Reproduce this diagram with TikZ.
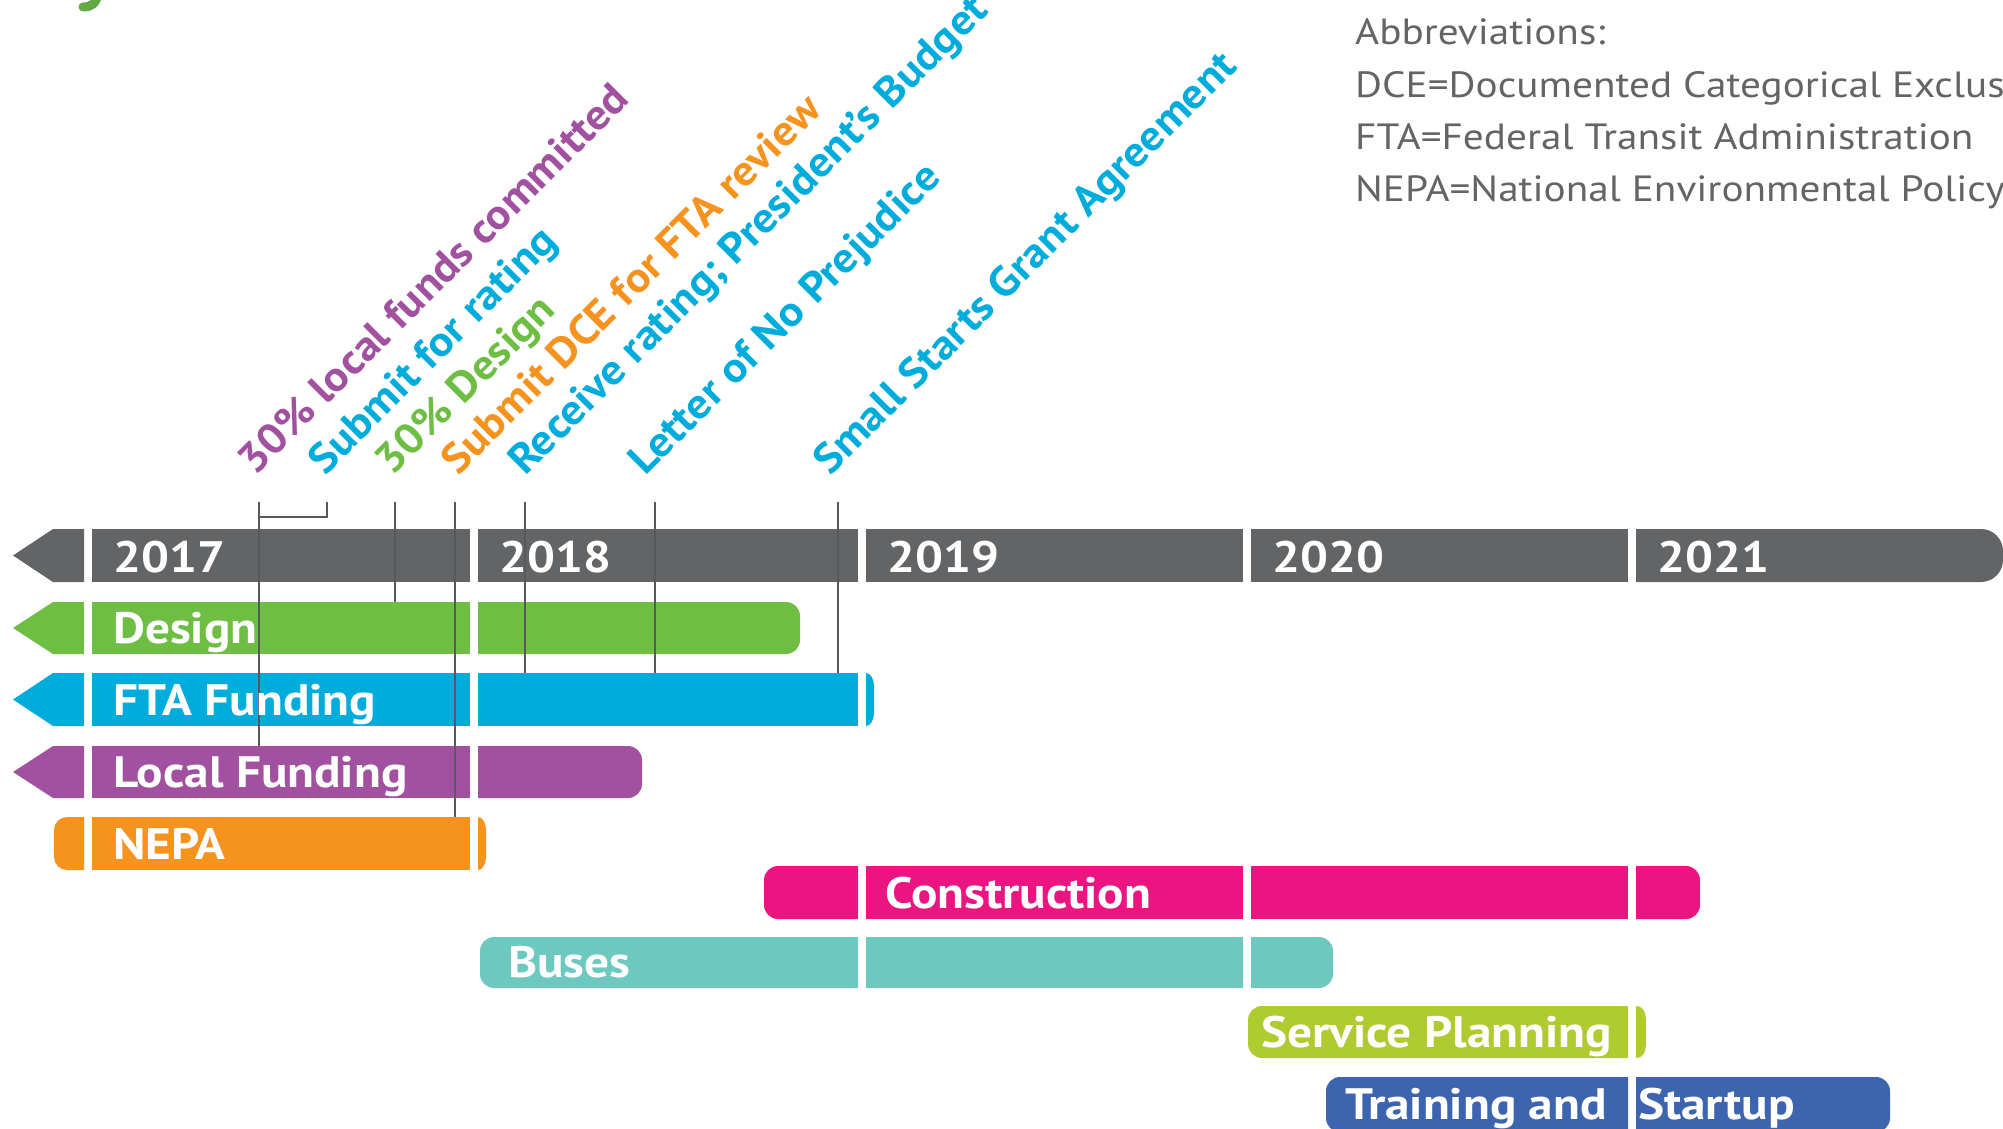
\documentclass[tikz,border=0pt]{standalone}
\usepackage{fontspec}
\setmainfont{PT Sans}
\newfontfamily\barfont{PT Sans}[FakeStretch=1.12]
\newfontfamily\msfont{PT Sans}[FakeStretch=1.08]
\newfontfamily\abfont{PT Sans}[FakeStretch=1.13]
\definecolor{ygray}{HTML}{636466}
\definecolor{cgreen}{HTML}{6EBE44}
\definecolor{cblue}{HTML}{00ACDC}
\definecolor{cpurple}{HTML}{A1519F}
\definecolor{corange}{HTML}{F6921E}
\definecolor{cmagenta}{HTML}{EC1481}
\definecolor{cteal}{HTML}{6DC8BF}
\definecolor{clime}{HTML}{AFCB30}
\definecolor{cnavy}{HTML}{3D64AF}
\definecolor{tickgray}{HTML}{58595B}
\definecolor{titlegreen}{HTML}{62A945}
% plain segment: color, x1, x2, top, bottom
\newcommand\rectseg[5]{\fill[#1] (#2,#4) rectangle (#3,#5);}
% right rounded: color, x1, x2, top, bottom, rx, ry
\newcommand\rseg[7]{\fill[#1] (#2,#4) -- ({#3-#6},#4) arc[start angle=-90,end angle=0,x radius=#6,y radius=#7] -- (#3,{#5-#7}) arc[start angle=0,end angle=90,x radius=#6,y radius=#7] -- (#2,#5) -- cycle;}
% left rounded: color, x1, x2, top, bottom, rx, ry
\newcommand\lseg[7]{\fill[#1] (#3,#4) -- (#3,#5) -- ({#2+#6},#5) arc[start angle=90,end angle=180,x radius=#6,y radius=#7] -- (#2,{#4+#7}) arc[start angle=180,end angle=270,x radius=#6,y radius=#7] -- cycle;}
% left arrow head: color, top, bottom
\newcommand\arrowhead[3]{\fill[#1] (13,{(#2+#3)/2}) -- (53,#2) -- (84,#2) -- (84,#3) -- (53,#3) -- cycle;}
\begin{document}
\begin{tikzpicture}[x=1pt,y=-1pt,
  lbl/.style={inner sep=0pt, anchor=base west, text=white, font=\barfont\bfseries\fontsize{44}{44}\selectfont},
  ms/.style={inner sep=0pt, anchor=base west, rotate=45, font=\msfont\bfseries\fontsize{42}{42}\selectfont},
  abbr/.style={inner sep=0pt, anchor=base west, text=ygray, font=\abfont\fontsize{36.5}{36.5}\selectfont},
  tick/.style={draw=tickgray, line width=1.8pt}]
\useasboundingbox (0,0) rectangle (2003,1128);
\clip (0,0) rectangle (2003,1128);

% title fragment
\draw[titlegreen, line width=9pt, line cap=round] (98,-6) .. controls (96,4) and (91,7) .. (83,7);

% year bar
\arrowhead{ygray}{529}{582}
\rectseg{ygray}{92}{470}{529}{582}
\rectseg{ygray}{478}{858}{529}{582}
\rectseg{ygray}{866}{1243}{529}{582}
\rectseg{ygray}{1251}{1628}{529}{582}
\rseg{ygray}{1636}{2003}{529}{582}{22}{22}

% Design
\arrowhead{cgreen}{602}{654}
\rectseg{cgreen}{92}{470}{602}{654}
\rseg{cgreen}{478}{800}{602}{654}{14}{14}
% FTA Funding
\arrowhead{cblue}{673}{726}
\rectseg{cblue}{92}{470}{673}{726}
\rectseg{cblue}{478}{858}{673}{726}
\rseg{cblue}{866}{874}{673}{726}{8}{13}
% Local Funding
\arrowhead{cpurple}{746}{798}
\rectseg{cpurple}{92}{470}{746}{798}
\rseg{cpurple}{478}{642}{746}{798}{14}{14}
% NEPA
\lseg{corange}{54}{84}{817}{870}{13}{13}
\rectseg{corange}{92}{470}{817}{870}
\rseg{corange}{478}{486}{817}{870}{8}{13}
% Construction
\lseg{cmagenta}{764}{858}{866}{919}{14}{14}
\rectseg{cmagenta}{866}{1243}{866}{919}
\rectseg{cmagenta}{1251}{1628}{866}{919}
\rseg{cmagenta}{1636}{1700}{866}{919}{14}{14}
% Buses
\lseg{cteal}{480}{858}{937}{988}{14}{14}
\rectseg{cteal}{866}{1243}{937}{988}
\rseg{cteal}{1251}{1333}{937}{988}{14}{14}
% Service Planning
\lseg{clime}{1248}{1628}{1006}{1058}{14}{14}
\rseg{clime}{1636}{1646}{1006}{1058}{9}{13}
% Training and Startup
\lseg{cnavy}{1326}{1628}{1077}{1132}{14}{14}
\rseg{cnavy}{1636}{1890}{1077}{1132}{14}{14}

% milestone ticks
\coordinate (t1) at (259,502); \coordinate (b1) at (259,746);
\coordinate (t2) at (327,502); \coordinate (k2) at (327,517); \coordinate (j2) at (259,517);
\coordinate (t3) at (395,502); \coordinate (b3) at (395,602);
\coordinate (t4) at (455,502); \coordinate (b4) at (455,817);
\coordinate (t5) at (525,502); \coordinate (b5) at (525,673);
\coordinate (t6) at (655,502); \coordinate (b6) at (655,673);
\coordinate (t7) at (838,502); \coordinate (b7) at (838,673);
\draw[tick] (t1) -- (b1);
\draw[tick] (t2) -- (k2) -- (j2);
\draw[tick] (t3) -- (b3);
\draw[tick] (t4) -- (b4);
\draw[tick] (t5) -- (b5);
\draw[tick] (t6) -- (b6);
\draw[tick] (t7) -- (b7);

% year labels
\node[lbl] (y17) at (113,572) {2017};
\node[lbl] (y18) at (499,572) {2018};
\node[lbl] (y19) at (887,572) {2019};
\node[lbl] (y20) at (1272,572) {2020};
\node[lbl] (y21) at (1657,572) {2021};

% bar labels
\node[lbl] (design) at (113,643) {Design};
\node[lbl] (fta) at (113,715) {FTA Funding};
\node[lbl] (local) at (113,787) {Local Funding};
\node[lbl] (nepa) at (113,859) {NEPA};
\node[lbl] (constr) at (885,908) {Construction};
\node[lbl] (buses) at (508,977) {Buses};
\node[lbl] (service) at (1261,1047) {Service Planning};
\node[lbl] (train) at (1345,1119) {Training and};
\node[lbl] (startup) at (1638,1119) {Startup};

% milestone labels
\node[ms, text=cpurple] (m1) at (255,477) {30\% local funds committed};
\node[ms, text=cblue] (m2) at (325,477) {Submit for rating};
\node[ms, text=cgreen] (m3) at (392,477) {30\% Design};
\node[ms, text=corange] (m4) at (458,477) {Submit DCE for FTA review};
\node[ms, text=cblue] (m5) at (525,477) {Receive rating; President’s Budget};
\node[ms, text=cblue] (m6) at (645,477) {Letter of No Prejudice};
\node[ms, text=cblue] (m7) at (830,477) {Small Starts Grant Agreement};

% abbreviations
\node[abbr] (ab0) at (1355,44) {Abbreviations:};
\node[abbr] (ab1) at (1355,97) {DCE=Documented Categorical Exclusion};
\node[abbr] (ab2) at (1355,149) {FTA=Federal Transit Administration};
\node[abbr] (ab3) at (1355,201) {NEPA=National Environmental Policy Act};
\end{tikzpicture}
\end{document}
